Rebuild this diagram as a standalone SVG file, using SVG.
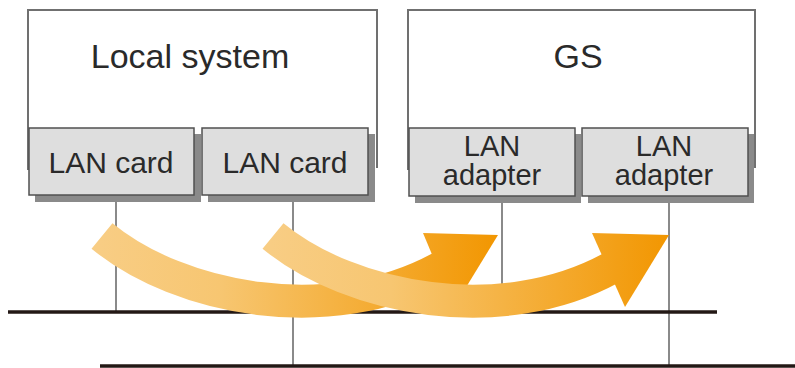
<svg xmlns="http://www.w3.org/2000/svg" width="795" height="368" viewBox="0 0 795 368">
<style>
.box{fill:#ffffff;stroke:#707070;stroke-width:2}
.card{fill:#dedede;stroke:#505050;stroke-width:1.5}
.shadow{fill:#8a8a8a}
.lbl{font-family:"Liberation Sans",Arial,sans-serif;fill:#2a2a2a;text-anchor:middle}
.drop{stroke:#8a8a8a;stroke-width:2;fill:none}
.bus{stroke:#231815;stroke-width:3.5;fill:none}
</style>
<defs>
<linearGradient id="g1" gradientUnits="userSpaceOnUse" x1="100" y1="0" x2="500" y2="0">
<stop offset="0" stop-color="#f8cd84"/>
<stop offset="0.3" stop-color="#f7c671"/>
<stop offset="1" stop-color="#f29600"/>
</linearGradient>
<linearGradient id="g2" gradientUnits="userSpaceOnUse" x1="271" y1="0" x2="671" y2="0">
<stop offset="0" stop-color="#f8cd84"/>
<stop offset="0.3" stop-color="#f7c671"/>
<stop offset="1" stop-color="#f29600"/>
</linearGradient>
</defs>
<g id="local-system">
<path class="box" d="M28 170 V10 H377 V168"/>
<text class="lbl" x="190" y="68" font-size="34">Local system</text>
</g>
<g id="gs">
<path class="box" d="M408 170 V10 H755 V168"/>
<text class="lbl" x="578" y="68" font-size="34">GS</text>
</g>
<g id="lan-card-1">
<rect class="shadow" x="35" y="134" width="166" height="68"/>
<rect class="card" x="29" y="128" width="165" height="67"/>
<text class="lbl" x="111" y="173" font-size="30">LAN card</text>
</g>
<g id="lan-card-2">
<rect class="shadow" x="208" y="134" width="167" height="68"/>
<rect class="card" x="202" y="128" width="166" height="67"/>
<text class="lbl" x="285" y="173" font-size="30">LAN card</text>
</g>
<g id="lan-adapter-1">
<rect class="shadow" x="415" y="134" width="166" height="69"/>
<rect class="card" x="409" y="128" width="166" height="68"/>
<text class="lbl" x="492" y="156" font-size="29">LAN</text>
<text class="lbl" x="492" y="185" font-size="29">adapter</text>
</g>
<g id="lan-adapter-2">
<rect class="shadow" x="588" y="134" width="166" height="69"/>
<rect class="card" x="582" y="128" width="166" height="68"/>
<text class="lbl" x="664" y="156" font-size="29">LAN</text>
<text class="lbl" x="664" y="185" font-size="29">adapter</text>
</g>
<g id="connectors">
<line class="drop" x1="116" y1="202" x2="116" y2="312"/>
<line class="drop" x1="293" y1="202" x2="293" y2="366"/>
<line class="drop" x1="502" y1="203" x2="502" y2="312"/>
<line class="drop" x1="669" y1="203" x2="669" y2="366"/>
<line class="bus" x1="8" y1="312" x2="717" y2="312"/>
<line class="bus" x1="100" y1="366" x2="795" y2="366"/>
</g>
<g id="arrow-1">
<path d="M102 236 C180 300 330 328 440 268" fill="none" stroke="url(#g1)" stroke-width="33"/>
<polygon points="423,233 498,235 454,307" fill="url(#g1)"/>
</g>
<g id="arrow-2">
<path d="M273 236 C351 300 501 328 611 268" fill="none" stroke="url(#g2)" stroke-width="33"/>
<polygon points="592,233 669,235 625,307" fill="url(#g2)"/>
</g>
</svg>
